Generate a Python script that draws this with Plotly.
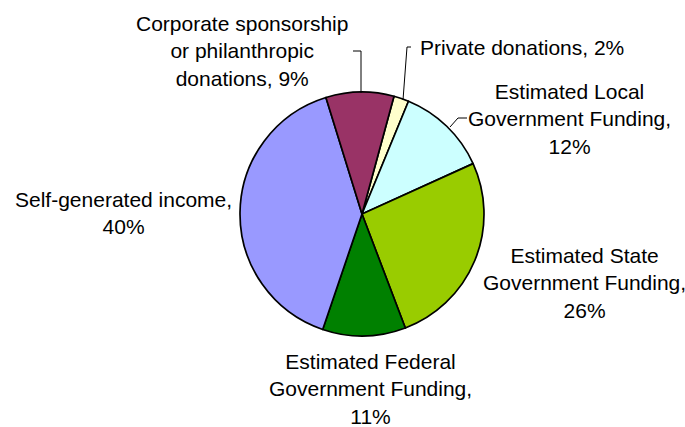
import plotly.graph_objects as go

# Funding sources, listed clockwise starting just right of 12 o'clock
sources = [
    "Private donations",
    "Estimated Local Government Funding",
    "Estimated State Government Funding",
    "Estimated Federal Government Funding",
    "Self-generated income",
    "Corporate sponsorship or philanthropic donations",
]
shares = [2, 12, 26, 11, 40, 9]
slice_colors = ["#FFFFCC", "#CCFFFF", "#99CC00", "#008000", "#9999FF", "#993366"]

# Data label text (line breaks as laid out around the pie)
label_lines = [
    ["Private donations, {}%"],
    ["Estimated Local", "Government Funding,", "{}%"],
    ["Estimated State", "Government Funding,", "{}%"],
    ["Estimated Federal", "Government Funding,", "{}%"],
    ["Self-generated income,", "{}%"],
    ["Corporate sponsorship", "or philanthropic", "donations, {}%"],
]

W, H = 685, 427
cx, cy, r = 362, 214, 122

fig = go.Figure()
fig.add_trace(go.Pie(
    labels=sources,
    values=shares,
    sort=False,
    direction="clockwise",
    rotation=15.2,
    textinfo="none",
    hoverinfo="label+percent",
    marker=dict(colors=slice_colors, line=dict(color="black", width=1.7)),
    domain=dict(x=[(cx - r) / W, (cx + r) / W], y=[(H - cy - r) / H, (H - cy + r) / H]),
    showlegend=False,
))

# Label placement (pixel coordinates on a hidden overlay axis)
label_pos = [
    (419, 47, "left"),
    (569, 119, "center"),
    (584, 283, "center"),
    (370, 389, "center"),
    (123.5, 212.5, "center"),
    (242, 51, "center"),
]
annotations = []
for lines, v, (x, y, anchor) in zip(label_lines, shares, label_pos):
    text = "<br>".join(lines).format(v)
    annotations.append(dict(
        x=x, y=y, xref="x", yref="y", text=text, showarrow=False,
        xanchor=anchor, yanchor="middle", align="center", borderpad=0,
        font=dict(family="Liberation Sans, Arial, sans-serif", size=21, color="black"),
    ))

# Leader lines for the labels that sit away from their slices
leaders = [
    "M 353,51 L 361,51 L 361,93",
    "M 411,47 L 407,47 L 403,100",
    "M 467,118 L 458,118 L 450,127",
]
shapes = [dict(type="path", path=p, xref="x", yref="y",
               line=dict(color="black", width=1)) for p in leaders]

fig.update_layout(
    width=W, height=H,
    margin=dict(l=0, r=0, t=0, b=0),
    paper_bgcolor="white", plot_bgcolor="rgba(0,0,0,0)",
    xaxis=dict(range=[0, W], visible=False, fixedrange=True),
    yaxis=dict(range=[H, 0], visible=False, fixedrange=True),
    annotations=annotations,
    shapes=shapes,
)

fig.write_html("out.html")
